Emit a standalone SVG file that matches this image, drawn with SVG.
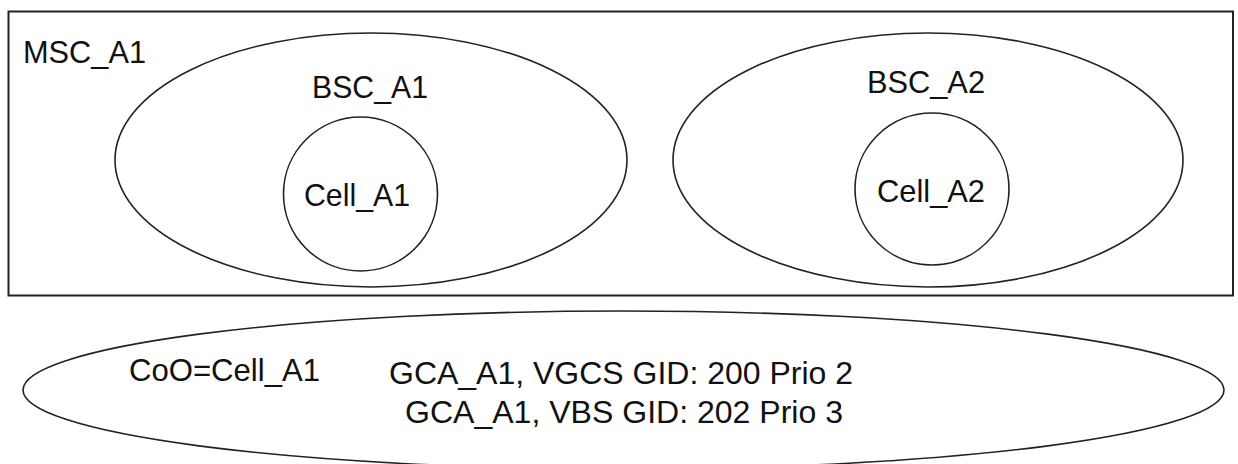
<svg xmlns="http://www.w3.org/2000/svg" width="1238" height="464" viewBox="0 0 1238 464">
<style>
.shape{fill:none;stroke:#222;stroke-width:1.6}
.box{fill:none;stroke:#222;stroke-width:2}
.lbl{font-family:"Liberation Sans",Arial,sans-serif;font-size:32px;fill:#111}
.mid{text-anchor:middle}
</style>
<rect width="1238" height="464" fill="#fff"/>
<g id="MSC_A1">
<rect class="box" x="8.5" y="11.5" width="1224.5" height="284"/>
<text class="lbl" x="23" y="63" textLength="123" lengthAdjust="spacingAndGlyphs">MSC_A1</text>
</g>
<g id="BSC_A1">
<ellipse class="shape" cx="371" cy="160" rx="256" ry="127"/>
<text class="lbl mid" x="370" y="98" textLength="116" lengthAdjust="spacingAndGlyphs">BSC_A1</text>
</g>
<g id="Cell_A1">
<ellipse class="shape" cx="360.5" cy="194" rx="77" ry="77"/>
<text class="lbl mid" x="357" y="206" textLength="106" lengthAdjust="spacingAndGlyphs">Cell_A1</text>
</g>
<g id="BSC_A2">
<ellipse class="shape" cx="928" cy="160" rx="255" ry="127"/>
<text class="lbl mid" x="926" y="93" textLength="118" lengthAdjust="spacingAndGlyphs">BSC_A2</text>
</g>
<g id="Cell_A2">
<ellipse class="shape" cx="932" cy="189" rx="77" ry="76"/>
<text class="lbl mid" x="931" y="202" textLength="108" lengthAdjust="spacingAndGlyphs">Cell_A2</text>
</g>
<g id="GCA_A1">
<ellipse class="shape" cx="623.5" cy="390" rx="600.5" ry="79"/>
<text class="lbl" x="129" y="381" textLength="191" lengthAdjust="spacingAndGlyphs">CoO=Cell_A1</text>
<text class="lbl mid" x="621" y="384" textLength="464" lengthAdjust="spacingAndGlyphs">GCA_A1, VGCS GID: 200 Prio 2</text>
<text class="lbl mid" x="624" y="423" textLength="438" lengthAdjust="spacingAndGlyphs">GCA_A1, VBS GID: 202 Prio 3</text>
</g>
<g id="connectors"/>
</svg>
